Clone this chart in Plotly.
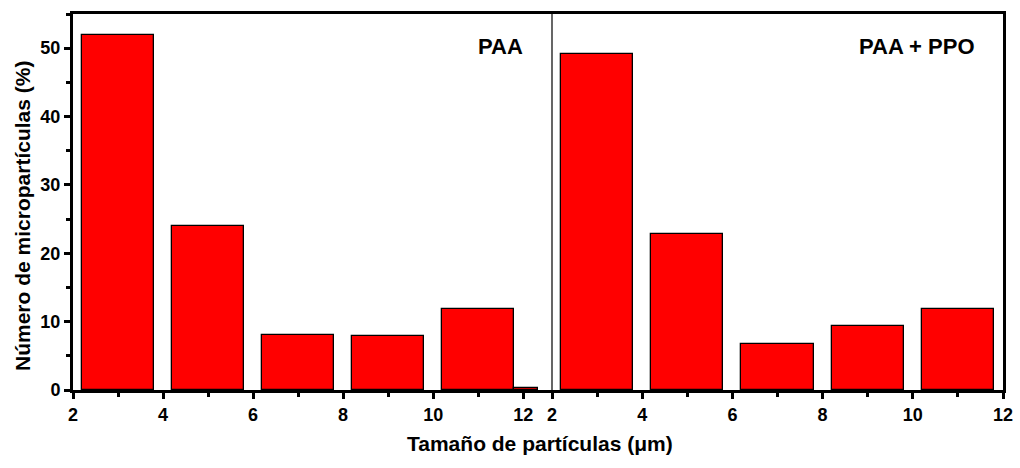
import plotly.graph_objects as go

# Data
paa_centers = [3, 5, 7, 9, 11, 12.07]
paa_widths = [1.6, 1.6, 1.6, 1.6, 1.6, 0.53]
paa_values = [52.0, 24.0, 8.1, 7.9, 11.8, 0.3]

ppo_centers = [3, 5, 7, 9, 11]
ppo_widths = [1.6, 1.6, 1.6, 1.6, 1.6]
ppo_values = [49.2, 22.8, 6.7, 9.4, 11.9]

x_ticks = [2, 4, 6, 8, 10, 12]
y_ticks = [0, 10, 20, 30, 40, 50]

FONT = "Liberation Sans, Arial, sans-serif"
bar_style = dict(marker=dict(color="#FF0000", line=dict(color="black", width=1.3)))

fig = go.Figure()
fig.add_trace(go.Bar(x=paa_centers, y=paa_values, width=paa_widths,
                     xaxis="x", yaxis="y", showlegend=False, **bar_style))
fig.add_trace(go.Bar(x=ppo_centers, y=ppo_values, width=ppo_widths,
                     xaxis="x2", yaxis="y2", showlegend=False, **bar_style))

split = 479 / 930
tickfont = dict(family=FONT, size=18, color="black", weight="bold")
common_x = dict(tickmode="array", tickvals=x_ticks, ticktext=[str(t) for t in x_ticks],
                ticks="outside", ticklen=6, tickwidth=2.5, tickcolor="black",
                showline=True, linecolor="black", linewidth=3, mirror=True,
                showgrid=False, zeroline=False, tickfont=tickfont, automargin=False,
                minor=dict(dtick=1, tick0=1, ticks="outside", ticklen=4,
                           tickwidth=2.5, tickcolor="black"))

afont = dict(family=FONT, size=22, color="black", weight="bold")
tfont = dict(family=FONT, size=21, color="black", weight="bold")

fig.update_layout(
    width=1020, height=468,
    margin=dict(l=73, r=17, t=14, b=78),
    paper_bgcolor="white", plot_bgcolor="white",
    font=dict(family=FONT, size=18, color="black", weight="bold"),
    bargap=0,
    xaxis=dict(domain=[0, split], range=[2, 12.64], anchor="y", **common_x),
    xaxis2=dict(domain=[split, 1], range=[2, 12], anchor="y2", **common_x),
    yaxis=dict(range=[0, 55], anchor="x", domain=[0, 1],
               tickmode="array", tickvals=y_ticks, ticktext=[str(t) for t in y_ticks],
               ticks="outside", ticklen=6, tickwidth=2.5, tickcolor="black",
               minor=dict(dtick=5, ticks="outside", ticklen=4, tickwidth=2.5, tickcolor="black"),
               showline=True, linecolor="black", linewidth=3,
               showgrid=False, zeroline=False, tickfont=tickfont, automargin=False),
    yaxis2=dict(range=[0, 55], anchor="x2", domain=[0, 1], matches="y",
                side="right", showline=True, linecolor="black", linewidth=3,
                showticklabels=False, ticks="", showgrid=False, zeroline=False),
    shapes=[dict(type="line", xref="paper", yref="paper", x0=split, x1=split,
                 y0=0, y1=1, line=dict(color="black", width=1.2))],
    annotations=[
        dict(text="PAA", xref="paper", yref="paper", x=(500 - 73) / 930, y=(390 - 46) / 376,
             xanchor="center", yanchor="middle", showarrow=False, font=afont),
        dict(text="PAA + PPO", xref="paper", yref="paper", x=(917 - 73) / 930, y=(390 - 46) / 376,
             xanchor="center", yanchor="middle", showarrow=False, font=afont),
        dict(text="Tamaño de partículas (μm)", xref="paper", yref="paper",
             x=(540 - 73) / 930, y=-(443 - 390) / 376, xanchor="center", yanchor="middle",
             showarrow=False, font=tfont),
        dict(text="Número de micropartículas (%)", xref="paper", yref="paper",
             x=(22 - 73) / 930, y=(390 - 216) / 376, xanchor="center", yanchor="middle",
             textangle=-90, showarrow=False, font=tfont),
    ],
)

# remove the default page margin so the figure sits at the window's top-left corner
fig.write_html("out.html",
               config={"displayModeBar": False},
               post_script="document.body.style.margin='0';"
                           "document.documentElement.style.overflow='hidden';")
